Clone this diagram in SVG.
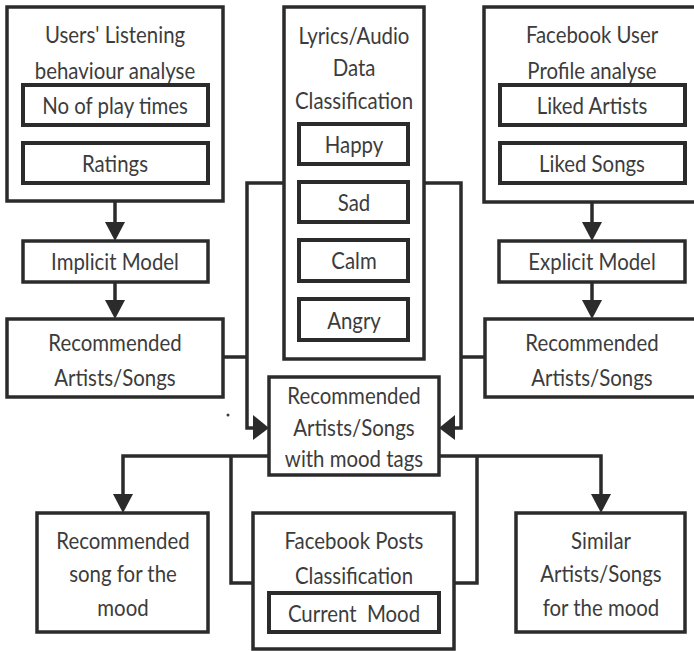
<svg xmlns="http://www.w3.org/2000/svg" width="694" height="651" viewBox="0 0 694 651">
<defs>
<style>
.box{fill:#fff;stroke:#2b2b2b;stroke-width:3.5}
.inner{fill:#fff;stroke:#2b2b2b;stroke-width:4}
.ln{fill:none;stroke:#2b2b2b;stroke-width:3.5}
.ah{fill:#2b2b2b}
text{font-family:Lato,"Open Sans",sans-serif;font-size:24px;fill:#3c3c3c;text-anchor:middle;dominant-baseline:central;transform-box:fill-box;transform-origin:center;transform:scaleX(0.85)}
</style>
</defs>
<rect width="694" height="651" fill="#fff"/>
<g id="connectors">
<path class="ln" d="M115 201 V228"/>
<polygon class="ah" points="105,222 125,222 115,241"/>
<path class="ln" d="M115 282 V306"/>
<polygon class="ah" points="105,300 125,300 115,319"/>
<path class="ln" d="M592 202 V228"/>
<polygon class="ah" points="582,222 602,222 592,241"/>
<path class="ln" d="M592 282 V306"/>
<polygon class="ah" points="582,300 602,300 592,319"/>
<path class="ln" d="M284 183 H247 V428 H256 M223 357 H247"/>
<polygon class="ah" points="253,415 253,440 269,428"/>
<path class="ln" d="M424 183 H461 V428 H452 M485 357 H461"/>
<polygon class="ah" points="455,415 455,440 439,428"/>
<path class="ln" d="M269 456 H123 V500"/>
<polygon class="ah" points="113,494 133,494 123,513"/>
<path class="ln" d="M439 456 H601 V500"/>
<polygon class="ah" points="591,494 611,494 601,513"/>
<path class="ln" d="M231 456 V583 H253"/>
<path class="ln" d="M477 456 V583 H454"/>
</g>
<g id="listening">
<rect class="box" x="7" y="7" width="216" height="194"/>
<text x="115" y="34">Users' Listening</text>
<text x="115" y="70">behaviour analyse</text>
</g>
<g id="playtimes"><rect class="inner" x="23" y="85" width="185" height="40"/><text x="115" y="105">No of play times</text></g>
<g id="ratings"><rect class="inner" x="23" y="143" width="185" height="40"/><text x="115" y="163">Ratings</text></g>
<g id="lyrics">
<rect class="box" x="284" y="7" width="140" height="352"/>
<text x="354" y="35">Lyrics/Audio</text>
<text x="354" y="67">Data</text>
<text x="354" y="100">Classification</text>
</g>
<g id="happy"><rect class="inner" x="299" y="124" width="109" height="40"/><text x="354" y="144">Happy</text></g>
<g id="sad"><rect class="inner" x="299" y="182" width="109" height="40"/><text x="354" y="202">Sad</text></g>
<g id="calm"><rect class="inner" x="299" y="240" width="109" height="41"/><text x="354" y="260">Calm</text></g>
<g id="angry"><rect class="inner" x="299" y="299" width="109" height="41"/><text x="354" y="320">Angry</text></g>
<g id="fbprofile">
<rect class="box" x="484" y="7" width="216" height="195"/>
<text x="592" y="34">Facebook User</text>
<text x="592" y="70">Profile analyse</text>
</g>
<g id="likedartists"><rect class="inner" x="500" y="85" width="185" height="40"/><text x="592" y="105">Liked Artists</text></g>
<g id="likedsongs"><rect class="inner" x="500" y="143" width="185" height="40"/><text x="592" y="163">Liked Songs</text></g>
<g id="implicit"><rect class="box" x="23" y="241" width="185" height="41"/><text x="115" y="261">Implicit Model</text></g>
<g id="explicit"><rect class="box" x="499" y="241" width="186" height="41"/><text x="592" y="261">Explicit Model</text></g>
<g id="recleft">
<rect class="box" x="7" y="319" width="216" height="78"/>
<text x="115" y="342">Recommended</text>
<text x="115" y="377">Artists/Songs</text>
</g>
<g id="recright">
<rect class="box" x="485" y="319" width="216" height="78"/>
<text x="592" y="342">Recommended</text>
<text x="592" y="377">Artists/Songs</text>
</g>
<g id="moodtags">
<rect class="box" x="269" y="377" width="170" height="98"/>
<text x="354" y="395">Recommended</text>
<text x="354" y="427">Artists/Songs</text>
<text x="354" y="458">with mood tags</text>
</g>
<g id="recsong">
<rect class="box" x="37" y="513" width="171" height="119"/>
<text x="123" y="540">Recommended</text>
<text x="123" y="573">song for the</text>
<text x="123" y="607">mood</text>
</g>
<g id="fbposts">
<rect class="box" x="253" y="513" width="201" height="136"/>
<text x="354" y="540">Facebook Posts</text>
<text x="354" y="575">Classification</text>
</g>
<g id="currentmood"><rect class="inner" x="269" y="593" width="170" height="39"/><text x="354" y="613" xml:space="preserve">Current  Mood</text></g>
<g id="similar">
<rect class="box" x="516" y="513" width="169" height="119"/>
<text x="601" y="540">Similar</text>
<text x="601" y="573">Artists/Songs</text>
<text x="601" y="607">for the mood</text>
</g>
<circle cx="228" cy="415" r="1.5" fill="#3c3c3c"/>
</svg>
